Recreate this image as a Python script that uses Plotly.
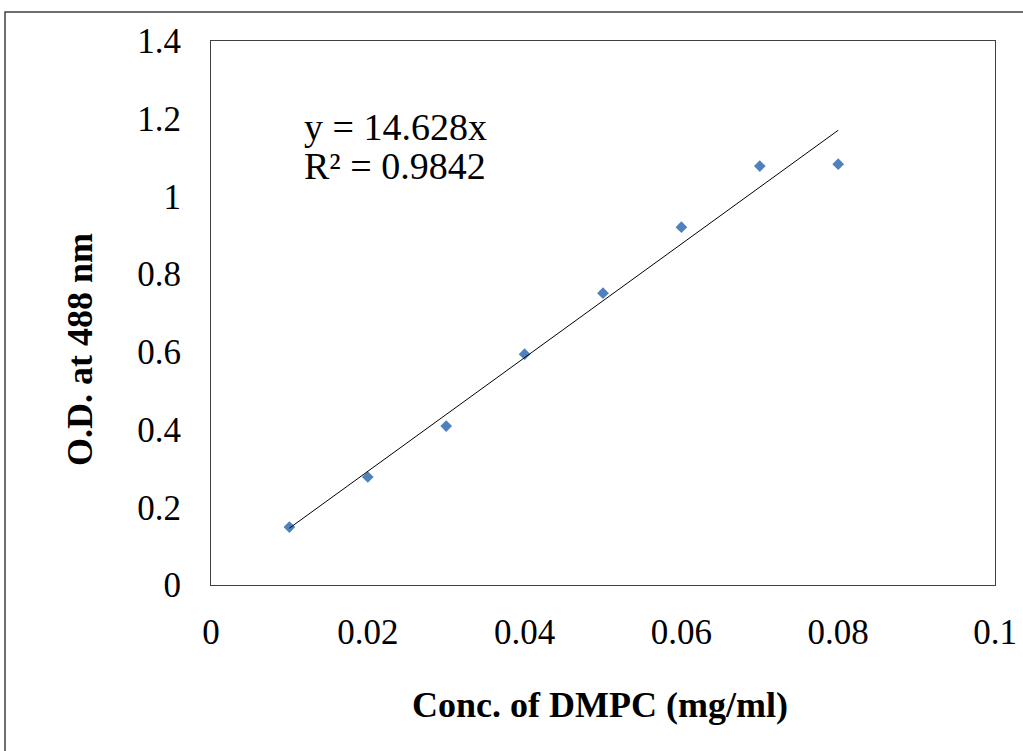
import plotly.graph_objects as go

# DMPC calibration data
conc = [0.01, 0.02, 0.03, 0.04, 0.05, 0.06, 0.07, 0.08]
od488 = [0.149, 0.278, 0.409, 0.594, 0.751, 0.921, 1.078, 1.083]

# linear fit through origin, as reported
slope = 14.628
r_squared = 0.9842

x_ticks = [0, 0.02, 0.04, 0.06, 0.08, 0.1]
x_ticktext = ["0", "0.02", "0.04", "0.06", "0.08", "0.1"]
y_ticks = [0, 0.2, 0.4, 0.6, 0.8, 1.0, 1.2, 1.4]
y_ticktext = ["0", "0.2", "0.4", "0.6", "0.8", "1", "1.2", "1.4"]

W, H = 1023, 751
ML, MR, MT, MB = 211, 28, 41, 166
pw, ph = W - ML - MR, H - MT - MB


def px_x(p):
    return (p - ML) / pw


def px_y(p):
    return (H - MB - p) / ph


serif = "Liberation Serif, Times New Roman, serif"

fit_x = [conc[0], conc[-1]]
fit_y = [slope * v for v in fit_x]

fig = go.Figure()
fig.add_trace(go.Scatter(
    x=conc, y=od488, mode="markers",
    marker=dict(symbol="diamond", size=9, color="#4F81BD"),
    showlegend=False,
))
fig.add_trace(go.Scatter(
    x=fit_x, y=fit_y, mode="lines",
    line=dict(color="black", width=1),
    hoverinfo="skip", showlegend=False,
))

axis_common = dict(
    showgrid=False, zeroline=False, showline=True, mirror=True,
    linecolor="#404040", linewidth=1, ticks="outside", ticklen=0,
    tickfont=dict(family=serif, size=35, color="black"),
)
fig.update_xaxes(range=[0, 0.1], tickvals=x_ticks, ticktext=x_ticktext,
                 ticklabelstandoff=16, **axis_common)
fig.update_yaxes(range=[0, 1.4], tickvals=y_ticks, ticktext=y_ticktext,
                 ticklabelstandoff=22, **axis_common)

eq_font = dict(family=serif, size=38, color="black")
title_font = dict(family=serif, size=36, color="black")
annotations = [
    dict(text=f"y = {slope}x", x=px_x(302), y=px_y(127),
         xanchor="left", yanchor="middle", font=eq_font),
    dict(text=f"R² = {r_squared}", x=px_x(302), y=px_y(166),
         xanchor="left", yanchor="middle", font=eq_font),
    dict(text="<b>Conc. of DMPC (mg/ml)</b>", x=px_x(600), y=px_y(705),
         xanchor="center", yanchor="middle", font=title_font),
    dict(text="<b>O.D. at 488 nm</b>", x=px_x(80), y=px_y(350), textangle=-90,
         xanchor="center", yanchor="middle", font=title_font),
]
for a in annotations:
    a.update(xref="paper", yref="paper", showarrow=False)

# outer chart frame
fig.add_shape(type="rect", xref="paper", yref="paper",
              x0=px_x(5), x1=px_x(1100), y0=px_y(900), y1=px_y(12),
              line=dict(color="#404040", width=1.5))

fig.update_layout(
    width=W, height=H,
    margin=dict(l=ML, r=MR, t=MT, b=MB, autoexpand=False),
    paper_bgcolor="white", plot_bgcolor="white",
    annotations=annotations,
)

fig.write_html("out.html")
